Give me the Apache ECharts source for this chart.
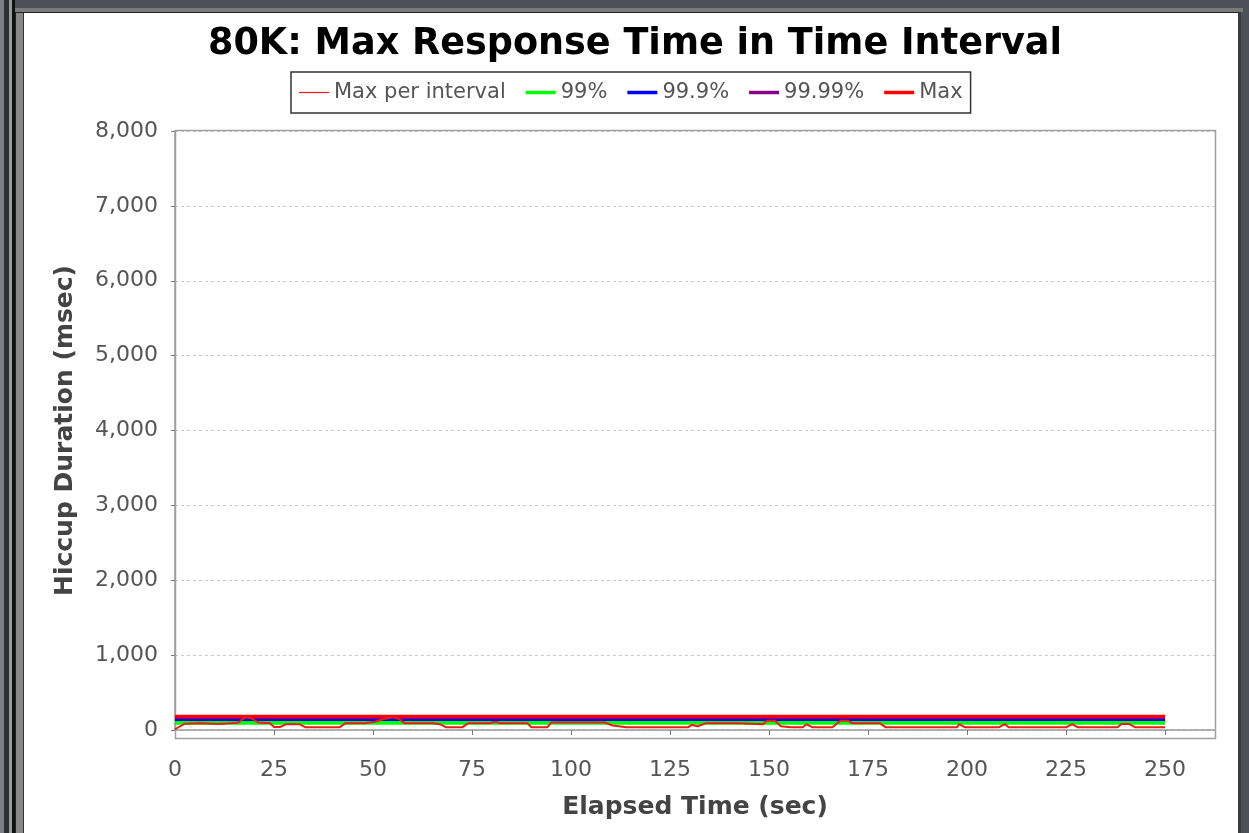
<!DOCTYPE html>
<html>
<head>
<meta charset="utf-8">
<title>80K: Max Response Time in Time Interval</title>
<script src="https://cdn.jsdelivr.net/npm/echarts@6/dist/echarts.min.js"></script>
<style>
  html, body { margin: 0; padding: 0; width: 1249px; height: 833px; overflow: hidden; background: #4d5059; }
  #edgeL1 { position: absolute; left: 0; top: 0; width: 4px; height: 833px; background: #7d7f84; }
  #edgeL2 { position: absolute; left: 4px; top: 0; width: 5px; height: 833px; background: #2e3035; }
  #edgeL3 { position: absolute; left: 9px; top: 0; width: 3px; height: 833px; background: #9a9a9a; }
  #edgeL4 { position: absolute; left: 12px; top: 0; width: 3px; height: 833px; background: #111; }
  #frameTop { position: absolute; left: 15px; top: 8px; width: 1228px; height: 4px; background: #7a7a7a; }
  #panel { position: absolute; left: 15px; top: 12px; width: 1222px; height: 821px;
           background: #888; border-left: 1px solid #222; border-top: 1px solid #222; border-right: 3px solid #3a3c42; }
  #inner { position: absolute; left: 7px; top: 0; right: 0; bottom: 0; background: #ffffff; border-left: 1px solid #333; }
  #chart { position: absolute; left: 0; top: 0; width: 1249px; height: 833px; }
</style>
</head>
<body>
<div id="edgeL1"></div><div id="edgeL2"></div><div id="edgeL3"></div><div id="edgeL4"></div>
<div id="frameTop"></div>
<div id="panel"><div id="inner"></div></div>
<div id="chart"></div>
<script>
// Elapsed time (sec) and the maximum hiccup seen in each interval (msec)
const elapsedSec = [0, 1, 2.5, 6, 11, 14, 16, 17, 18, 19.5, 21, 24, 25, 26.5, 28, 31.5, 33, 41.5, 43, 48, 50.5, 53, 55, 56.5, 58,
  65, 67, 68.5, 72.5, 74, 79.5, 81, 82, 89, 90, 94, 95, 108.5, 110.5, 114, 129.5, 130.5, 132, 134, 142, 142.5, 148.5, 149.5,
  151.5, 153, 155.5, 158.5, 159.5, 161, 166, 168, 170, 171, 178, 179.5, 197.5, 198, 199.5, 208, 209.5, 210.5, 225, 226.5,
  228, 238, 239, 241, 242.5, 250];
const maxPerInterval = [10, 40, 85, 90, 80, 90, 100, 140, 178, 150, 100, 90, 40, 40, 76, 76, 36, 36, 89, 89, 110, 150, 178, 150, 89,
  89, 76, 36, 36, 89, 89, 111, 89, 89, 36, 36, 100, 100, 60, 36, 36, 67, 50, 89, 89, 76, 76, 124,
  124, 50, 36, 36, 76, 36, 36, 124, 124, 89, 89, 36, 36, 80, 36, 36, 80, 36, 36, 80,
  36, 36, 80, 80, 36, 36];

// Overall percentile levels (msec) across the whole run
const percentileNames = ['99%', '99.9%', '99.99%', 'Max'];
const percentileValues = [102, 140, 162, 183];
const runSpan = [0, 250];

// Axis ticks
const yTicks = [0, 1000, 2000, 3000, 4000, 5000, 6000, 7000, 8000];
const xTicks = [0, 25, 50, 75, 100, 125, 150, 175, 200, 225, 250];

const FONT = '"DejaVu Sans", Verdana, sans-serif';
const colors = { 'Max per interval': '#f01818', '99%': '#00ff00', '99.9%': '#0000ff', '99.99%': '#880088', 'Max': '#ff0000' };
const widths = { '99%': 5, '99.9%': 3, '99.99%': 3, 'Max': 3 };

const chart = echarts.init(document.getElementById('chart'), null, { renderer: 'canvas' });

const series = [{
  name: 'Max per interval',
  type: 'line',
  data: elapsedSec.map((t, i) => [t, maxPerInterval[i]]),
  showSymbol: false,
  symbol: 'none',
  lineStyle: { color: colors['Max per interval'], width: 2 },
  itemStyle: { color: colors['Max per interval'] },
  z: 6,
  animation: false
}];
percentileNames.forEach((name, i) => {
  series.push({
    name,
    type: 'line',
    data: runSpan.map(t => [t, percentileValues[i]]),
    symbol: 'none',
    lineStyle: { color: colors[name], width: widths[name] },
    itemStyle: { color: colors[name] },
    z: 2 + i * 0.1,
    animation: false
  });
});

const thinIcon = 'path://M0,0L30,0L30,1.2L0,1.2Z';
const thickIcon = 'path://M0,0L30,0L30,3.5L0,3.5Z';

chart.setOption({
  animation: false,
  title: {
    text: '80K: Max Response Time in Time Interval',
    left: 630,
    top: 21,
    textAlign: 'center',
    textStyle: { fontFamily: FONT, fontWeight: 'bold', fontSize: 36.6, color: '#000' }
  },
  legend: {
    left: 291,
    top: 72,
    padding: [10, 8, 10, 8],
    itemGap: 20,
    itemWidth: 30,
    itemHeight: 14,
    borderColor: '#333',
    borderWidth: 1.5,
    backgroundColor: '#fff',
    textStyle: { fontFamily: FONT, fontSize: 21, color: '#555' },
    data: [
      { name: 'Max per interval', icon: thinIcon },
      { name: '99%', icon: thickIcon },
      { name: '99.9%', icon: thickIcon },
      { name: '99.99%', icon: thickIcon },
      { name: 'Max', icon: thickIcon }
    ]
  },
  graphic: [{
    type: 'rect',
    shape: { x: 175.5, y: 130.5, width: 1040, height: 608 },
    style: { fill: null, stroke: '#a0a0a0', lineWidth: 1.5 },
    silent: true,
    z: 1
  }],
  grid: { left: 175, right: 34, top: 131, bottom: 103, containLabel: false },
  xAxis: {
    type: 'value',
    min: 0,
    max: 262.6,
    interval: 25,
    offset: 15,
    name: 'Elapsed Time (sec)',
    nameLocation: 'middle',
    nameGap: 50,
    nameTextStyle: { fontFamily: FONT, fontWeight: 'bold', fontSize: 25, color: '#444' },
    axisLine: { show: true, lineStyle: { color: '#999', width: 1.5 } },
    axisTick: { show: true, length: 5, lineStyle: { color: '#777' }, customValues: xTicks },
    axisLabel: {
      margin: 14,
      fontFamily: FONT, fontSize: 22, color: '#555',
      customValues: xTicks
    },
    splitLine: { show: false }
  },
  yAxis: {
    type: 'value',
    min: 0,
    max: 8000,
    interval: 1000,
    offset: 8,
    name: 'Hiccup Duration (msec)',
    nameLocation: 'middle',
    nameGap: 89,
    nameRotate: 90,
    nameTextStyle: { fontFamily: FONT, fontWeight: 'bold', fontSize: 25, color: '#444' },
    axisLine: { show: true, lineStyle: { color: '#999', width: 1.5 } },
    axisTick: { show: true, length: 4, lineStyle: { color: '#777' } },
    axisLabel: {
      margin: 9,
      fontFamily: FONT, fontSize: 22, color: '#555',
      customValues: yTicks,
      formatter: v => v.toLocaleString('en-US')
    },
    splitLine: { show: true, lineStyle: { color: '#c8c8c8', type: [3, 3], width: 1 } }
  },
  series
});
</script>
</body>
</html>
